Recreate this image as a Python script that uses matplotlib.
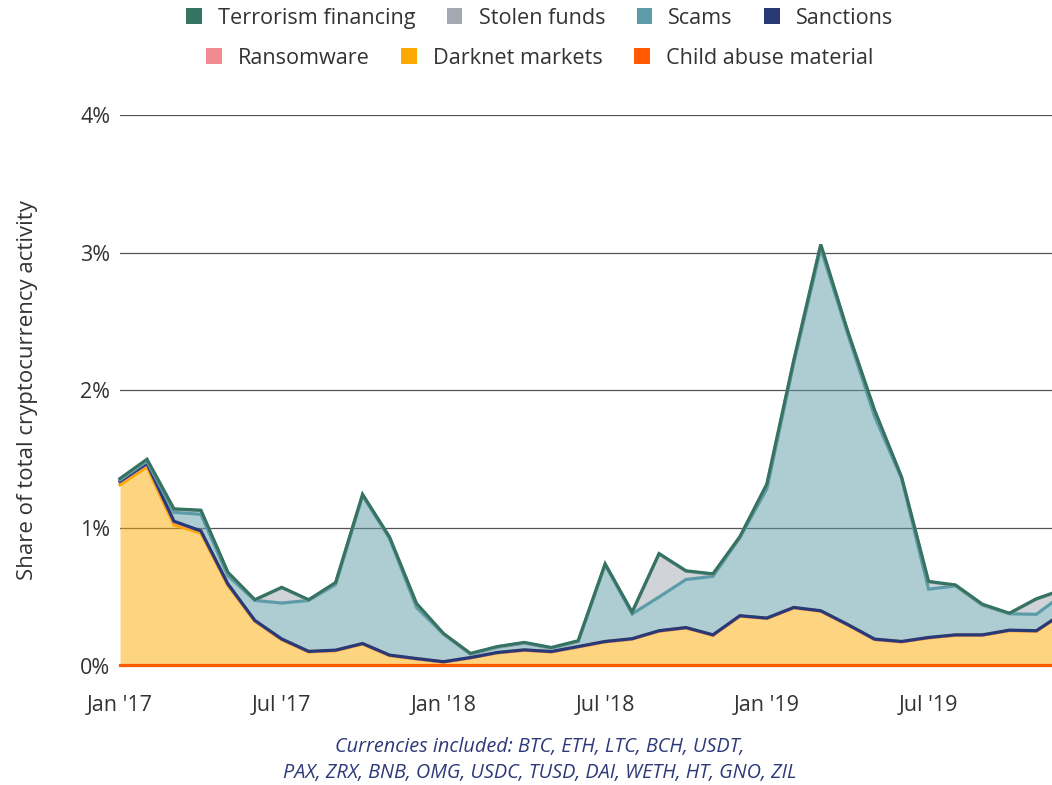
import numpy as np
import matplotlib.pyplot as plt
from matplotlib.patches import Patch

plt.rcParams['font.family'] = ['Open Sans', 'DejaVu Sans']

# monthly, Jan 2017 .. Dec 2019 (share of total activity, %)
tick_labels = ["Jan '17", "Jul '17", "Jan '18", "Jul '18", "Jan '19", "Jul '19"]

child_abuse = [0.004] * 36
darknet = [1.31, 1.44, 1.02, 0.96, 0.58, 0.32, 0.185, 0.097, 0.106, 0.154,
           0.070, 0.046, 0.023, 0.053, 0.090, 0.109, 0.097, 0.133, 0.170, 0.190,
           0.248, 0.271, 0.218, 0.357, 0.340, 0.417, 0.393, 0.293, 0.187, 0.170,
           0.199, 0.218, 0.218, 0.252, 0.248, 0.377]
ransomware = [0.02, 0.02, 0.02, 0.012, 0.008, 0.003, 0.003, 0.002, 0.002, 0.002,
              0.002, 0.001, 0.001, 0.001, 0.001, 0.001, 0.001, 0.001, 0.001, 0.001,
              0.001, 0.001, 0.001, 0.001, 0.001, 0.001, 0.001, 0.001, 0.001, 0.001,
              0.001, 0.001, 0.001, 0.001, 0.001, 0.001]
sanctions = [0.006, 0.006, 0.006, 0.004, 0.003, 0.003, 0.003, 0.002, 0.002, 0.002,
             0.002, 0.002, 0.002, 0.002, 0.002, 0.002, 0.002, 0.002, 0.002, 0.002,
             0.002, 0.002, 0.002, 0.002, 0.002, 0.002, 0.002, 0.002, 0.002, 0.002,
             0.002, 0.002, 0.002, 0.002, 0.002, 0.002]
scams = [0.01, 0.015, 0.065, 0.12, 0.06, 0.145, 0.261, 0.37, 0.476, 1.073,
         0.847, 0.371, 0.20, 0.025, 0.038, 0.049, 0.024, 0.037, 0.558, 0.18,
         0.245, 0.349, 0.425, 0.566, 0.938, 1.776, 2.63, 2.11, 1.616, 1.183,
         0.351, 0.355, 0.215, 0.119, 0.119, 0.136]
stolen = [0.007, 0.012, 0.022, 0.027, 0.022, 0.002, 0.111, 0.002, 0.012, 0.007,
          0.007, 0.026, 0.002, 0.002, 0.002, 0.002, 0.002, 0.002, 0.002, 0.010,
          0.312, 0.060, 0.015, 0.005, 0.032, 0.017, 0.027, 0.017, 0.042, 0.007,
          0.053, 0.004, 0.004, 0.001, 0.110, 0.032]
terrorism = [0.003] * 36

series = [
    ('Child abuse material', child_abuse, '#ff5a00'),
    ('Darknet markets', darknet, '#fcaa00'),
    ('Ransomware', ransomware, '#f28b8f'),
    ('Sanctions', sanctions, '#283a75'),
    ('Scams', scams, '#5c9ca8'),
    ('Stolen funds', stolen, '#a3a9b2'),
    ('Terrorism financing', terrorism, '#357363'),
]

x = np.arange(len(darknet))

fig = plt.figure(figsize=(10.52, 7.85), dpi=100)
ax = fig.add_axes([0.1141, 0.1518, 0.8859, 0.7017])

bottom = np.zeros(len(x))
tops = []
for name, vals, col in series:
    top = bottom + np.array(vals)
    ax.fill_between(x, bottom, top, color=col, alpha=0.5, lw=0, zorder=2)
    tops.append((top, col))
    bottom = top
for top, col in tops:
    ax.plot(x, top, color=col, lw=2.3, zorder=3, clip_on=False,
            solid_joinstyle='miter')

ax.set_xlim(0, 34.58)
ax.set_ylim(0, 4)
ax.set_yticks([0, 1, 2, 3, 4])
ax.set_yticklabels(['0%', '1%', '2%', '3%', '4%'])
ax.set_xticks([0, 6, 12, 18, 24, 30])
ax.set_xticklabels(tick_labels)
ax.tick_params(length=0, labelsize=15.5, colors='#333333')
ax.tick_params(axis='y', pad=7)
ax.tick_params(axis='x', pad=21)
ax.yaxis.grid(True, color='#555555', lw=0.9)
ax.set_axisbelow(True)
for s in ax.spines.values():
    s.set_visible(False)
ax.set_ylabel('Share of total cryptocurrency activity', fontsize=16,
              color='#333333', labelpad=30)

handles = {name: Patch(facecolor=col, edgecolor='none') for name, vals, col in series}
row1 = ['Terrorism financing', 'Stolen funds', 'Scams', 'Sanctions']
row2 = ['Ransomware', 'Darknet markets', 'Child abuse material']
kw = dict(frameon=False, fontsize=15.6, handlelength=0.72, handleheight=0.72,
          handletextpad=0.75, columnspacing=1.45, labelcolor='#333333')
fig.legend([handles[n] for n in row1], row1, ncol=4, loc='center',
           bbox_to_anchor=(0.513, 0.977), **kw)
fig.legend([handles[n] for n in row2], row2, ncol=3, loc='center',
           bbox_to_anchor=(0.513, 0.926), **kw)

fig.text(0.513, 0.049, 'Currencies included: BTC, ETH, LTC, BCH, USDT,',
         ha='center', va='center', fontsize=14.3, style='italic', color='#2e3a78')
fig.text(0.513, 0.015, 'PAX, ZRX, BNB, OMG, USDC, TUSD, DAI, WETH, HT, GNO, ZIL',
         ha='center', va='center', fontsize=14.3, style='italic', color='#2e3a78')

fig.savefig('out.png', dpi=100)
